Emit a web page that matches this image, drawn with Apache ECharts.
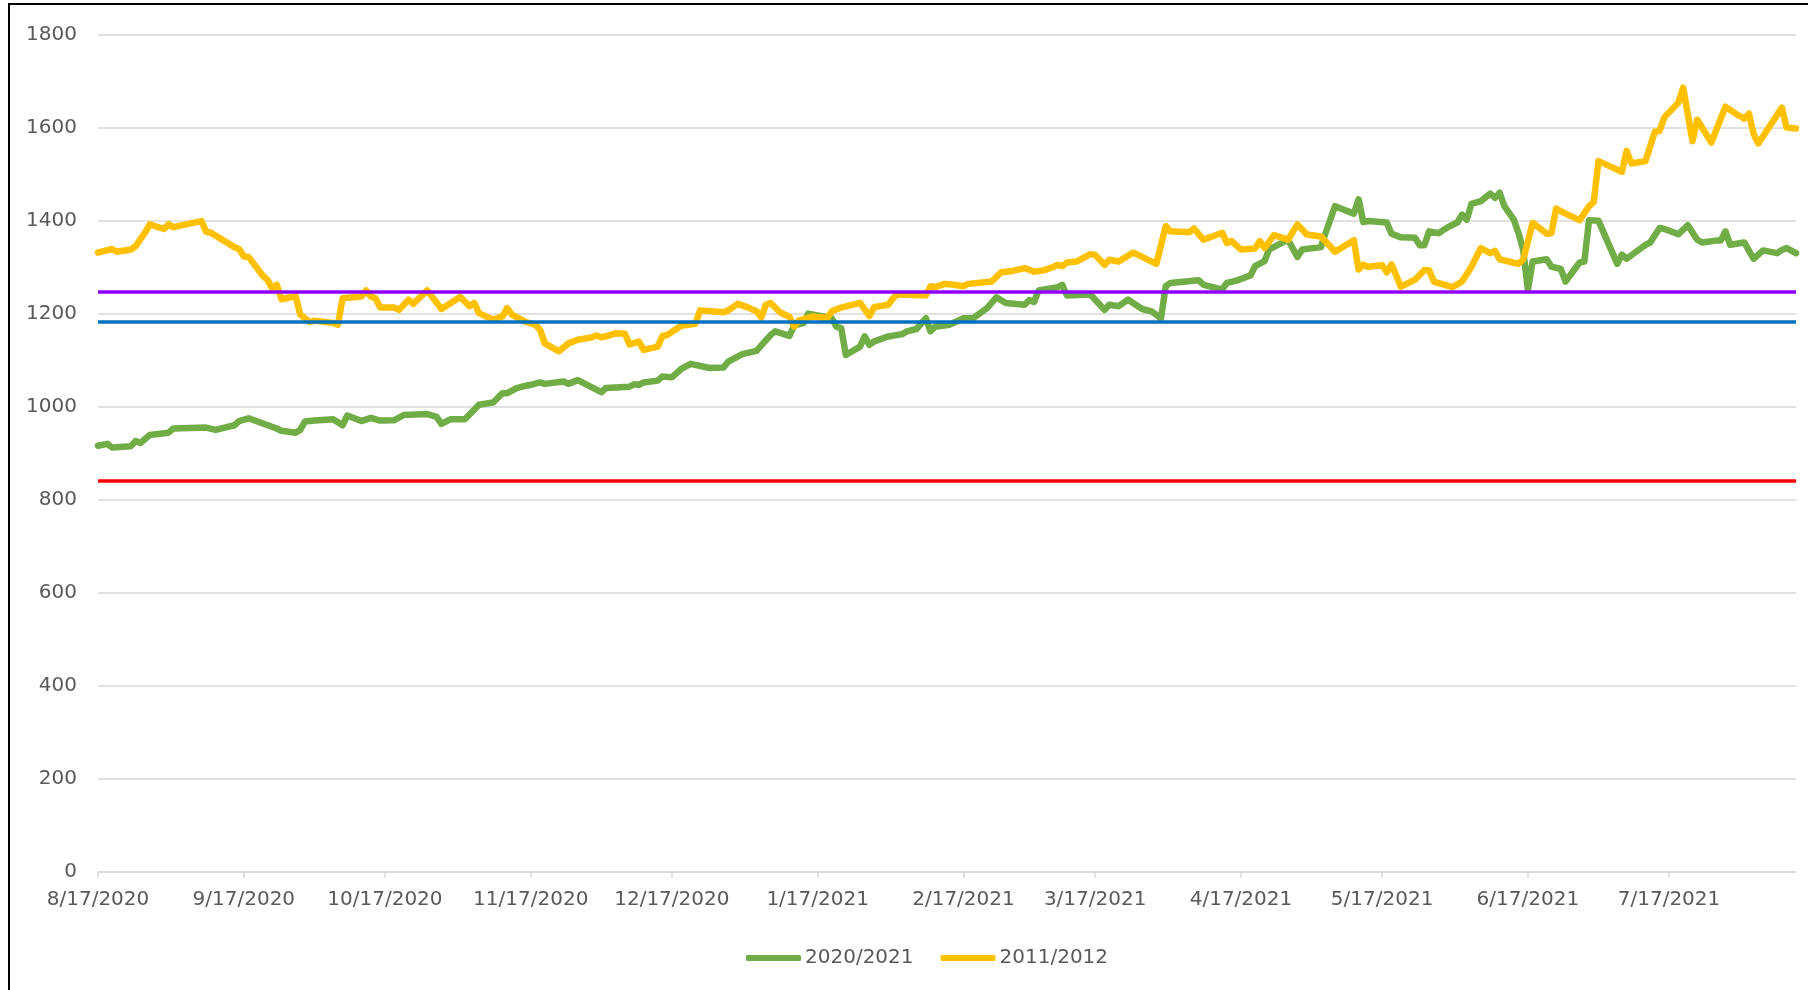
<!DOCTYPE html>
<html>
<head>
<meta charset="utf-8">
<script src="https://cdn.jsdelivr.net/npm/echarts@6/dist/echarts.min.js"></script>
<style>
  html, body { margin: 0; padding: 0; background: #fff; }
  #chart { position: absolute; left: 0; top: 0; width: 1808px; height: 990px; }
  #frame { position: absolute; left: 8px; top: 3px; width: 1900px; height: 1100px;
           border-left: 2px solid #000; border-top: 2px solid #000; pointer-events: none; }
</style>
</head>
<body>
<div id="chart"></div>
<div id="frame"></div>
<script>
// ---- Data (day offsets from 8/17/2020) ----
const startDate = '2020-08-17';
const dayCount = 362; // 8/17/2020 .. 8/13/2021
const yTicks = [0, 200, 400, 600, 800, 1000, 1200, 1400, 1600, 1800];

const seriesNames = ['2020/2021', '2011/2012'];

const greenDays = [0,2,3,7,8,9,11,15,16,23,25,29,30,32,38,39,42,43,44,46,50,52,53,56,58,60,63,65,70,72,73,75,78,81,84,86,87,89,91,92,94,95,99,100,102,107,108,113,114,115,116,119,120,122,124,126,130,133,134,137,140,143,144,147,148,150,151,156,157,158,159,162,163,164,165,168,171,172,174,176,177,178,181,184,186,189,191,193,197,198,199,200,204,205,206,211,212,214,215,217,219,222,224,226,227,228,234,235,239,240,242,245,246,248,249,253,255,256,260,261,263,267,268,269,270,274,275,277,280,281,282,283,285,287,289,290,291,292,294,296,297,298,299,301,302,303,304,305,308,309,311,312,315,316,317,319,323,324,325,329,330,332,333,336,338,340,341,344,345,346,347,350,352,354,357,358,359,361];
const greenVals = [916,920,912,915,926,922,939,944,953,955,950,960,969,975,953,948,944,950,968,970,973,960,981,969,976,970,971,982,984,978,963,973,973,1004,1009,1029,1029,1040,1045,1047,1052,1049,1054,1049,1057,1031,1040,1043,1048,1047,1052,1056,1065,1063,1081,1092,1083,1084,1097,1113,1120,1154,1162,1152,1174,1180,1200,1190,1172,1169,1111,1129,1151,1133,1140,1151,1156,1162,1167,1190,1162,1172,1176,1190,1190,1212,1235,1223,1219,1229,1225,1250,1257,1262,1239,1241,1230,1208,1219,1216,1230,1210,1205,1190,1259,1266,1272,1262,1252,1266,1271,1282,1302,1313,1338,1359,1322,1338,1343,1374,1431,1415,1446,1397,1399,1396,1372,1364,1363,1347,1347,1377,1373,1386,1396,1413,1402,1436,1442,1458,1449,1460,1431,1402,1373,1337,1251,1312,1317,1301,1296,1269,1310,1312,1401,1400,1307,1327,1318,1348,1353,1384,1382,1371,1390,1359,1353,1357,1357,1377,1348,1353,1318,1336,1330,1337,1341,1330];

const yellowDays = [0,3,4,7,8,10,11,14,15,16,22,23,24,29,30,31,32,35,36,37,38,39,42,43,45,46,50,51,52,56,57,58,59,60,63,64,66,67,70,73,77,79,80,81,84,86,87,88,91,93,94,95,98,100,102,105,106,107,109,110,112,113,115,116,119,120,121,124,127,128,133,134,136,138,140,141,142,143,145,147,148,149,152,155,156,158,162,164,165,168,169,170,176,177,178,180,182,184,185,190,192,194,197,199,201,203,204,205,206,208,211,212,214,215,217,220,221,225,227,228,232,233,235,239,240,241,243,246,247,248,250,253,255,257,260,263,267,268,269,270,273,274,275,277,280,282,283,284,288,290,292,294,296,297,298,302,303,305,308,309,310,312,315,317,318,319,324,325,326,329,331,332,333,336,337,339,340,343,346,348,350,351,352,353,358,359,361];
const yellowVals = [1331,1339,1333,1338,1345,1374,1392,1382,1392,1386,1399,1376,1374,1343,1339,1323,1322,1282,1273,1255,1262,1231,1238,1198,1182,1185,1180,1176,1233,1237,1250,1237,1233,1213,1213,1208,1230,1221,1250,1210,1236,1216,1223,1201,1187,1194,1212,1198,1182,1176,1165,1136,1119,1136,1144,1149,1153,1149,1154,1158,1157,1134,1140,1122,1129,1152,1154,1174,1178,1207,1203,1207,1221,1214,1205,1192,1219,1223,1203,1193,1172,1185,1194,1190,1205,1213,1223,1195,1214,1219,1233,1241,1239,1259,1257,1264,1262,1259,1264,1269,1289,1291,1298,1290,1293,1300,1305,1302,1310,1312,1328,1326,1305,1316,1312,1331,1327,1307,1388,1377,1375,1383,1359,1374,1352,1356,1338,1340,1356,1341,1369,1359,1392,1370,1366,1333,1358,1295,1305,1301,1304,1289,1306,1258,1273,1294,1293,1269,1257,1269,1301,1341,1330,1335,1317,1307,1316,1395,1372,1373,1426,1415,1401,1431,1440,1528,1505,1550,1523,1528,1591,1593,1622,1654,1686,1571,1617,1568,1645,1631,1619,1630,1586,1566,1643,1600,1598];

// horizontal reference levels
const refLevels = [1247, 1183, 840];
const refColors = ['#8F00FF', '#0070C0', '#FF0000'];

// ---- Build categories (calendar days) ----
const categories = [];
(function () {
  const d0 = new Date(startDate + 'T00:00:00Z');
  for (let i = 0; i < dayCount; i++) {
    const d = new Date(d0.getTime() + i * 86400000);
    categories.push((d.getUTCMonth() + 1) + '/' + d.getUTCDate() + '/' + d.getUTCFullYear());
  }
})();
const isTickDay = (idx) => categories[idx].split('/')[1] === '17';

const chart = echarts.init(document.getElementById('chart'), null, { renderer: 'canvas' });
const FONT = 'DejaVu Sans';

chart.setOption({
  animation: false,
  backgroundColor: '#fff',
  grid: { left: 98, right: 12, top: 34.6, bottom: 118.3, containLabel: false },
  legend: {
    bottom: 17,
    left: 741,
    data: seriesNames,
    icon: 'roundRect',
    itemWidth: 55,
    itemHeight: 6,
    itemGap: 27,
    textStyle: { fontFamily: FONT, fontSize: 20, color: '#595959', padding: [0, 0, 0, -1] }
  },
  xAxis: {
    type: 'category',
    data: categories,
    boundaryGap: false,
    axisLine: { lineStyle: { color: '#d9d9d9', width: 1.5 } },
    axisTick: { show: true, interval: (i) => isTickDay(i), length: 6, lineStyle: { color: '#d9d9d9', width: 1.5 } },
    axisLabel: { interval: (i) => isTickDay(i), margin: 18, fontFamily: FONT, fontSize: 20, color: '#595959' },
    splitLine: { show: false }
  },
  yAxis: {
    type: 'value',
    min: yTicks[0],
    max: yTicks[yTicks.length - 1],
    interval: yTicks[1] - yTicks[0],
    axisLine: { show: false },
    axisTick: { show: false },
    axisLabel: { margin: 21, fontFamily: FONT, fontSize: 20, color: '#595959', formatter: (v) => String(v) },
    splitLine: { lineStyle: { color: '#d9d9d9', width: 1.5 } }
  },
  series: [
    {
      name: seriesNames[0],
      type: 'line',
      data: greenDays.map((d, i) => [d, greenVals[i]]),
      showSymbol: false,
      connectNulls: true,
      color: '#70AD47',
      lineStyle: { color: '#70AD47', width: 6.5, join: 'round', cap: 'round' },
      z: 2
    },
    {
      name: seriesNames[1],
      type: 'line',
      data: yellowDays.map((d, i) => [d, yellowVals[i]]),
      showSymbol: false,
      connectNulls: true,
      color: '#FFC000',
      lineStyle: { color: '#FFC000', width: 6.5, join: 'round', cap: 'round' },
      z: 3
    },
    {
      name: 'ref',
      type: 'line',
      data: [],
      z: 5,
      markLine: {
        silent: true,
        symbol: ['none', 'none'],
        label: { show: false },
        animation: false,
        data: refLevels.map((v, i) => ({ yAxis: v, lineStyle: { color: refColors[i], width: 3.5, type: 'solid' } }))
      }
    }
  ]
});
</script>
</body>
</html>
